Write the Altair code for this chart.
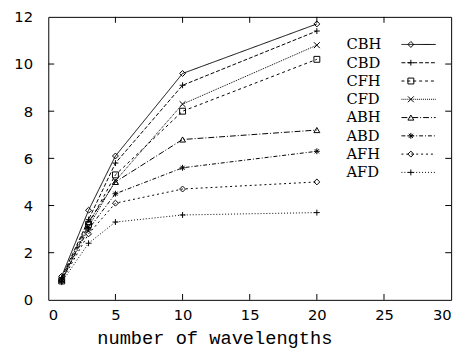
import altair as alt
import pandas as pd

wavelengths = [1, 3, 5, 10, 20]
series_names = ["CBH", "CBD", "CFH", "CFD", "ABH", "ABD", "AFH", "AFD"]
CBH = [1.0, 3.8, 6.1, 9.6, 11.7]
CBD = [0.95, 3.4, 5.8, 9.1, 11.4]
CFH = [0.8, 3.2, 5.3, 8.0, 10.2]
CFD = [0.85, 3.1, 5.05, 8.3, 10.8]
ABH = [0.9, 3.3, 5.0, 6.8, 7.2]
ABD = [0.85, 3.0, 4.5, 5.6, 6.3]
AFH = [0.8, 2.8, 4.1, 4.7, 5.0]
AFD = [0.75, 2.4, 3.3, 3.6, 3.7]
values = [CBH, CBD, CFH, CFD, ABH, ABD, AFH, AFD]

x_ticks = [0, 5, 10, 15, 20, 25, 30]
y_ticks = [0, 2, 4, 6, 8, 10, 12]

dashes = [[1, 0], [4, 2], [3, 3], [1, 1], [6, 2, 1, 2], [4, 2, 1, 2], [2, 3], [1, 2]]
plus = "M-1,0L1,0M0,-1L0,1"
cross = "M-1,-1L1,1M-1,1L1,-1"
star = "M-1,0L1,0M0,-1L0,1M-0.7,-0.7L0.7,0.7M-0.7,0.7L0.7,-0.7"
shapes = ["diamond", plus, "square", cross, "triangle-up", star, "diamond", plus]

rows = []
for name, vals in zip(series_names, values):
    for w, v in zip(wavelengths, vals):
        rows.append({"series": name, "x": w, "y": v})
df = pd.DataFrame(rows)

leg = pd.DataFrame({"series": series_names})
leg["y"] = [10.83 - i * 0.775 for i in range(len(series_names))]
leg["lx"] = 22.2
leg["x1"] = 26.3
leg["x2"] = 28.85
leg["mx"] = 27.0

xs = alt.Scale(domain=[0, 30], nice=False, zero=False)
ys = alt.Scale(domain=[0, 12], nice=False, zero=False)
dash_scale = alt.Scale(domain=series_names, range=dashes)
shape_scale = alt.Scale(domain=series_names, range=shapes)

xaxis = alt.Axis(values=x_ticks, ticks=False, domain=False, grid=False, labelPadding=8,
                 title="number of wavelengths", titleX=169, titleY=44,
                 titleBaseline="alphabetic", titleAnchor="middle", titleAlign="center")
yaxis = alt.Axis(values=y_ticks, ticks=False, domain=False, grid=False, labelPadding=16, title=None)

lines = alt.Chart(df).mark_line(color="black", strokeWidth=1).encode(
    x=alt.X("x:Q", scale=xs, axis=xaxis),
    y=alt.Y("y:Q", scale=ys, axis=yaxis),
    strokeDash=alt.StrokeDash("series:N", scale=dash_scale, legend=None),
    detail="series:N",
)
points = alt.Chart(df).mark_point(filled=False, color="black", strokeWidth=1, size=36, opacity=1).encode(
    x=alt.X("x:Q", scale=xs),
    y=alt.Y("y:Q", scale=ys),
    shape=alt.Shape("series:N", scale=shape_scale, legend=None),
)

# inward ticks on all four sides
xt = pd.DataFrame({"t": [5, 10, 15, 20, 25]})
yt = pd.DataFrame({"t": [2, 4, 6, 8, 10]})
tick_b = alt.Chart(xt).mark_rule(color="black").encode(
    x=alt.X("t:Q", scale=xs), y=alt.datum(0), y2=alt.datum(0.25))
tick_t = alt.Chart(xt).mark_rule(color="black").encode(
    x=alt.X("t:Q", scale=xs), y=alt.datum(12), y2=alt.datum(11.75))
tick_l = alt.Chart(yt).mark_rule(color="black").encode(
    y=alt.Y("t:Q", scale=ys), x=alt.datum(0), x2=alt.datum(0.44))
tick_r = alt.Chart(yt).mark_rule(color="black").encode(
    y=alt.Y("t:Q", scale=ys), x=alt.datum(30), x2=alt.datum(29.56))

leg_text = alt.Chart(leg).mark_text(align="left", baseline="middle", font="DejaVu Serif",
                                    fontSize=15, color="black").encode(
    x=alt.X("lx:Q", scale=xs), y=alt.Y("y:Q", scale=ys), text="series:N")
leg_line = alt.Chart(leg).mark_rule(color="black", strokeWidth=1).encode(
    x=alt.X("x1:Q", scale=xs), x2="x2:Q", y=alt.Y("y:Q", scale=ys),
    strokeDash=alt.StrokeDash("series:N", scale=dash_scale, legend=None))
leg_pts = alt.Chart(leg).mark_point(filled=False, color="black", strokeWidth=1, size=36, opacity=1).encode(
    x=alt.X("mx:Q", scale=xs), y=alt.Y("y:Q", scale=ys),
    shape=alt.Shape("series:N", scale=shape_scale, legend=None))

chart = alt.layer(lines, points, tick_b, tick_t, tick_l, tick_r, leg_text, leg_line, leg_pts).properties(
    width=410, height=288,
    autosize=alt.AutoSizeParams(type="none"),
    padding={"left": 41, "top": 6, "right": 8, "bottom": 48},
    background="white",
).configure_view(stroke="black", strokeWidth=1).configure_axis(
    labelFont="DejaVu Sans", labelFontSize=15, labelColor="black",
    titleFont="Liberation Mono", titleFontSize=19, titleFontWeight="normal", titleColor="black",
)

chart.save("out.html", embed_options={"renderer": "svg", "actions": False})
